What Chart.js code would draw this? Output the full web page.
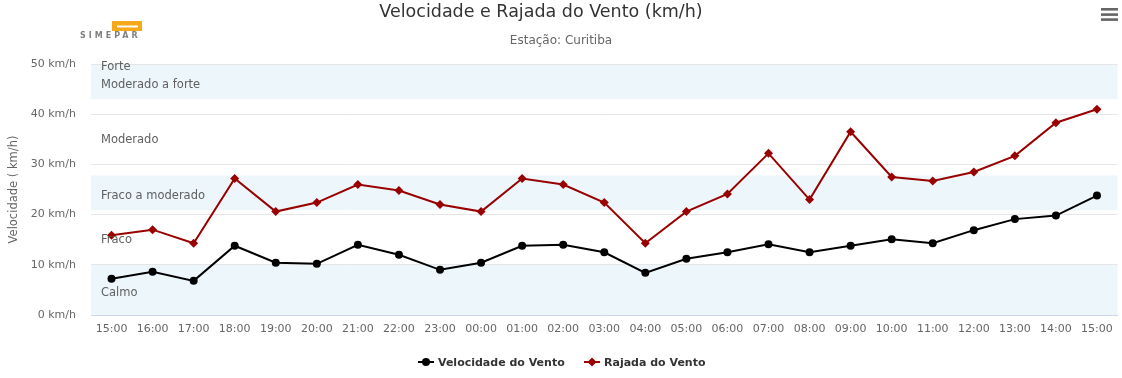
<!DOCTYPE html>
<html>
<head>
<meta charset="utf-8">
<script src="https://cdn.jsdelivr.net/npm/chart.js@4/dist/chart.umd.min.js"></script>
<style>
  html, body { margin: 0; padding: 0; background: #fff; }
  #wrap { width: 1122px; height: 378px; position: relative; }
</style>
</head>
<body>
<div id="wrap"><canvas id="c" width="1122" height="378"></canvas></div>
<script>
const categories = ['15:00','16:00','17:00','18:00','19:00','20:00','21:00','22:00','23:00','00:00','01:00','02:00','03:00','04:00','05:00','06:00','07:00','08:00','09:00','10:00','11:00','12:00','13:00','14:00','15:00'];
const velocidade = [7.2, 8.6, 6.8, 13.8, 10.4, 10.2, 14.0, 12.0, 9.0, 10.4, 13.8, 14.0, 12.5, 8.4, 11.2, 12.5, 14.1, 12.5, 13.8, 15.1, 14.3, 16.9, 19.1, 19.8, 23.8];
const rajada = [15.9, 17.0, 14.3, 27.2, 20.6, 22.4, 26.0, 24.8, 22.0, 20.6, 27.2, 26.0, 22.4, 14.3, 20.6, 24.1, 32.2, 23.0, 36.5, 27.5, 26.7, 28.5, 31.7, 38.3, 41.0];
const yTicks = [0, 10, 20, 30, 40, 50];
const bandNames = ['Calmo', 'Fraco', 'Fraco a moderado', 'Moderado', 'Moderado a forte', 'Forte'];
const bandFrom = [0, 10, 20.9, 27.8, 43, 50];
const bandTo = [10, 20.9, 27.8, 43, 50, 62];
const bandFilled = [true, false, true, false, true, false];
const titleText = 'Velocidade e Rajada do Vento (km/h)';
const subtitleText = 'Estação: Curitiba';
const yAxisTitle = 'Velocidade ( km/h)';
const seriesNames = ['Velocidade do Vento', 'Rajada do Vento'];

const FONT = '"DejaVu Sans", sans-serif';

const decor = {
  id: 'decor',
  beforeDraw(chart) {
    const {ctx, chartArea: a, scales: {y}} = chart;
    ctx.save();
    for (let i = 0; i < bandFrom.length; i++) {
      if (!bandFilled[i]) continue;
      const t = y.getPixelForValue(Math.min(bandTo[i], y.max));
      const b = y.getPixelForValue(Math.max(bandFrom[i], y.min));
      ctx.fillStyle = 'rgba(68,170,213,0.1)';
      ctx.fillRect(a.left, t, a.right - a.left, b - t);
    }
    ctx.restore();
  },
  afterDatasetsDraw(chart) {
    const {ctx, chartArea: a, scales: {y}} = chart;
    ctx.save();
    ctx.font = '11.5px ' + FONT;
    ctx.fillStyle = '#606060';
    ctx.textAlign = 'left';
    ctx.textBaseline = 'middle';
    for (let i = 0; i < bandFrom.length; i++) {
      const t = y.getPixelForValue(Math.min(bandTo[i], y.max));
      const b = y.getPixelForValue(Math.max(bandFrom[i], y.min));
      ctx.fillText(bandNames[i], a.left + 10, (t + b) / 2 + 3);
    }
    ctx.restore();
  },
  afterDraw(chart) {
    const {ctx} = chart;
    ctx.save();
    // title
    ctx.textAlign = 'center';
    ctx.textBaseline = 'middle';
    ctx.fillStyle = '#333333';
    ctx.font = '17.5px ' + FONT;
    ctx.fillText(titleText, 541, 12);
    ctx.fillStyle = '#666666';
    ctx.font = '12px ' + FONT;
    ctx.fillText(subtitleText, 561, 41);
    // menu icon
    ctx.fillStyle = '#666666';
    [8, 13.3, 18.3].forEach(yy => ctx.fillRect(1101, yy, 17, 2.6));
    // logo
    ctx.fillStyle = '#f7a81b';
    ctx.fillRect(112, 21, 30, 10);
    ctx.fillStyle = '#ffffff';
    ctx.fillRect(117, 25.5, 21, 2);
    ctx.fillStyle = '#808080';
    ctx.font = 'bold 8px ' + FONT;
    ctx.textAlign = 'left';
    ctx.textBaseline = 'alphabetic';
    if (ctx.letterSpacing !== undefined) ctx.letterSpacing = '3px';
    ctx.fillText('SIMEPAR', 80, 37.5);
    if (ctx.letterSpacing !== undefined) ctx.letterSpacing = '0px';
    // legend
    ctx.font = 'bold 11px ' + FONT;
    ctx.textBaseline = 'middle';
    const ly = 362;
    const items = [
      {x: 418, color: '#000000', style: 'circle', name: seriesNames[0]},
      {x: 584, color: '#990000', style: 'diamond', name: seriesNames[1]}
    ];
    items.forEach(it => {
      ctx.strokeStyle = it.color;
      ctx.lineWidth = 2;
      ctx.beginPath();
      ctx.moveTo(it.x, ly);
      ctx.lineTo(it.x + 16, ly);
      ctx.stroke();
      ctx.fillStyle = it.color;
      ctx.beginPath();
      if (it.style === 'circle') {
        ctx.arc(it.x + 8, ly, 4, 0, Math.PI * 2);
      } else {
        ctx.moveTo(it.x + 8, ly - 4.5);
        ctx.lineTo(it.x + 12.5, ly);
        ctx.lineTo(it.x + 8, ly + 4.5);
        ctx.lineTo(it.x + 3.5, ly);
        ctx.closePath();
      }
      ctx.fill();
      ctx.fillStyle = '#333333';
      ctx.fillText(it.name, it.x + 20, ly + 1);
    });
    ctx.restore();
  }
};

new Chart(document.getElementById('c'), {
  type: 'line',
  data: {
    labels: categories,
    datasets: [
      {
        label: seriesNames[0],
        data: velocidade,
        borderColor: '#000000',
        backgroundColor: '#000000',
        borderWidth: 2,
        pointStyle: 'circle',
        pointRadius: 4,
        pointBorderWidth: 0,
        pointHoverRadius: 4,
        tension: 0
      },
      {
        label: seriesNames[1],
        data: rajada,
        borderColor: '#990000',
        backgroundColor: '#990000',
        borderWidth: 2,
        pointStyle: 'rectRot',
        pointRadius: 4.5,
        pointBorderWidth: 0,
        pointHoverRadius: 4.5,
        tension: 0
      }
    ]
  },
  options: {
    responsive: false,
    animation: false,
    events: [],
    layout: { padding: { top: 64, left: 0, right: 3.5, bottom: 33 } },
    plugins: {
      legend: { display: false },
      title: { display: false },
      tooltip: { enabled: false }
    },
    scales: {
      x: {
        offset: true,
        grid: { display: false, drawTicks: false },
        border: { display: true, color: '#ccd6eb', width: 1 },
        ticks: { color: '#666666', font: { family: FONT, size: 11 }, padding: 8, maxRotation: 0, autoSkip: false },
        afterFit(s) { s.height = 30; }
      },
      y: {
        min: 0,
        max: 50,
        afterBuildTicks(s) { s.ticks = yTicks.map(v => ({value: v})); },
        grid: { color: '#e6e6e6', drawTicks: false },
        border: { display: false },
        ticks: {
          color: '#666666',
          font: { family: FONT, size: 11 },
          padding: 15,
          callback: v => v + ' km/h'
        },
        title: {
          display: true,
          text: yAxisTitle,
          color: '#666666',
          font: { family: FONT, size: 11.5 },
          padding: { top: 7, bottom: 0 }
        },
        afterFit(s) { s.width = 91; }
      }
    }
  },
  plugins: [decor]
});
</script>
</body>
</html>
